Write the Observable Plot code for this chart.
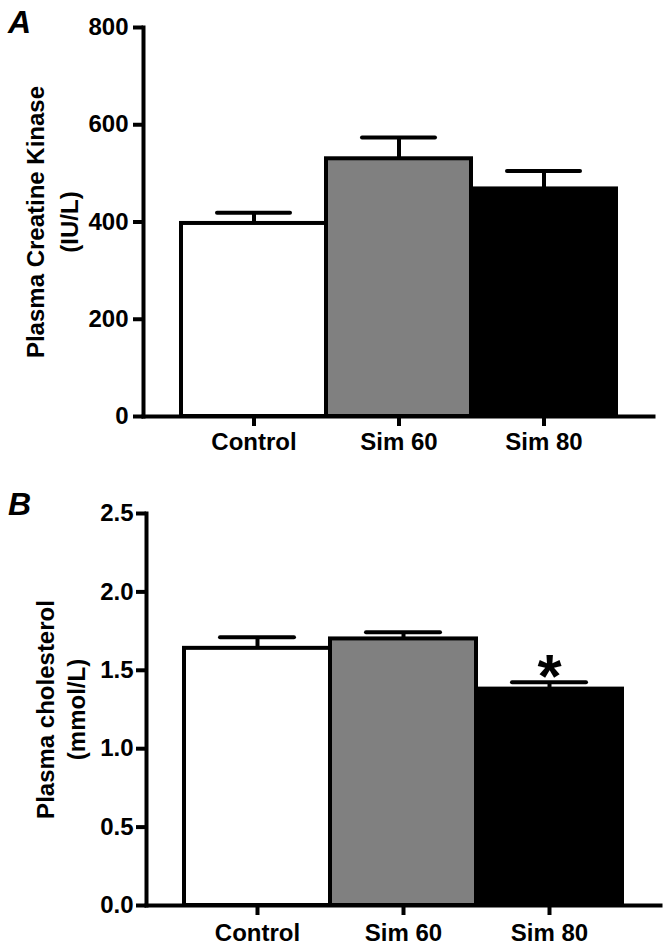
<!DOCTYPE html>
<html>
<head>
<meta charset="utf-8">
<script src="https://cdn.jsdelivr.net/npm/d3@7"></script>
<script src="https://cdn.jsdelivr.net/npm/@observablehq/plot@0.6"></script>
<style>
  html, body { margin: 0; padding: 0; background: white; }
  #wrap { position: relative; width: 666px; height: 946px; font-family: "Liberation Sans", Arial, sans-serif; }
  #wrap svg { display: block; }
  .panel-label { position: absolute; left: 8px; font: italic bold 32px/1 "Liberation Sans", Arial, sans-serif; color: black; }
</style>
</head>
<body>
<div id="wrap">
  <div id="plotA"></div>
  <div id="plotB"></div>
  <div class="panel-label" style="top:6px">A</div>
  <div class="panel-label" style="top:488px">B</div>
</div>
<script>
const categories = ["Control", "Sim 60", "Sim 80"];
const barFills = ["white", "#808080", "black"];

const ckMean = [397, 530, 468];
const ckSem = [22, 44, 37];
const ckTicks = [0, 200, 400, 600, 800];
const ckLabel = ["Plasma Creatine Kinase", "(IU/L)"];

const cholMean = [1.64, 1.70, 1.38];
const cholSem = [0.07, 0.042, 0.044];
const cholTicks = [0, 0.5, 1.0, 1.5, 2.0, 2.5];
const cholLabel = ["Plasma cholesterol", "(mmol/L)"];
const cholSig = ["", "", "*"];

const FONT = '"Liberation Sans", Arial, sans-serif';

function panel({means, sems, ticks, domain, label, labelDx, sig, height, margins, tickFormat, xPad}) {
  const rows = categories.map((c, i) => ({cat: c, mean: means[i], sem: sems[i], sig: sig ? sig[i] : ""}));
  const marks = [
    Plot.barY(rows, {x: "cat", y: "mean", fill: "cat", stroke: "black", strokeWidth: 4}),
    Plot.ruleX(rows, {x: "cat", y1: "mean", y2: d => d.mean + d.sem, stroke: "black", strokeWidth: 4}),
    Plot.tickY(rows, {x: "cat", y: d => d.mean + d.sem, stroke: "black", strokeWidth: 4, strokeLinecap: "round", insetLeft: 36, insetRight: 36}),
    Plot.frame({anchor: "left", stroke: "black", strokeWidth: 4}),
    Plot.frame({anchor: "bottom", stroke: "black", strokeWidth: 4}),
    Plot.axisY({ticks, tickSize: 10, tickPadding: xPad.y, strokeWidth: 4, tickFormat, fontSize: 24, fontWeight: "bold", fontFamily: FONT, label: null}),
    Plot.axisX({tickSize: 10, tickPadding: xPad.x, strokeWidth: 4, fontSize: 24, fontWeight: "bold", fontFamily: FONT, label: null}),
    Plot.text([label[0]], {frameAnchor: "left", rotate: -90, dx: labelDx[0], lineAnchor: "bottom", textAnchor: "middle", fontSize: 24, fontWeight: "bold", fontFamily: FONT}),
    Plot.text([label[1]], {frameAnchor: "left", rotate: -90, dx: labelDx[1], lineAnchor: "bottom", textAnchor: "middle", fontSize: 24, fontWeight: "bold", fontFamily: FONT})
  ];
  if (sig) {
    marks.push(Plot.text(rows.filter(d => d.sig), {x: "cat", y: d => d.mean + d.sem, text: "sig", lineAnchor: "bottom", dy: 15, fontSize: 62, fontWeight: "bold", fontFamily: FONT}));
  }
  return Plot.plot({
    width: 666,
    height,
    ...margins,
    style: {fontFamily: FONT, fontSize: "24px", fontWeight: "bold", color: "black", background: "white", overflow: "visible"},
    x: {domain: categories, paddingInner: 0, paddingOuter: 0.25},
    y: {domain, ticks},
    color: {domain: categories, range: barFills},
    marks
  });
}

document.getElementById("plotA").append(panel({
  means: ckMean, sems: ckSem, ticks: ckTicks, domain: [0, 800], label: ckLabel, labelDx: [-100, -66],
  height: 470, margins: {marginTop: 27, marginBottom: 54, marginLeft: 143, marginRight: 13},
  tickFormat: d3.format("d"), xPad: {x: 6, y: 5}
}));
document.getElementById("plotB").append(panel({
  means: cholMean, sems: cholSem, ticks: cholTicks, domain: [0, 2.5], label: cholLabel, labelDx: [-93, -62],
  sig: cholSig,
  height: 476, margins: {marginTop: 43, marginBottom: 41, marginLeft: 146, marginRight: 6},
  tickFormat: d3.format(".1f"), xPad: {x: 8, y: 3}
}));
</script>
</body>
</html>
